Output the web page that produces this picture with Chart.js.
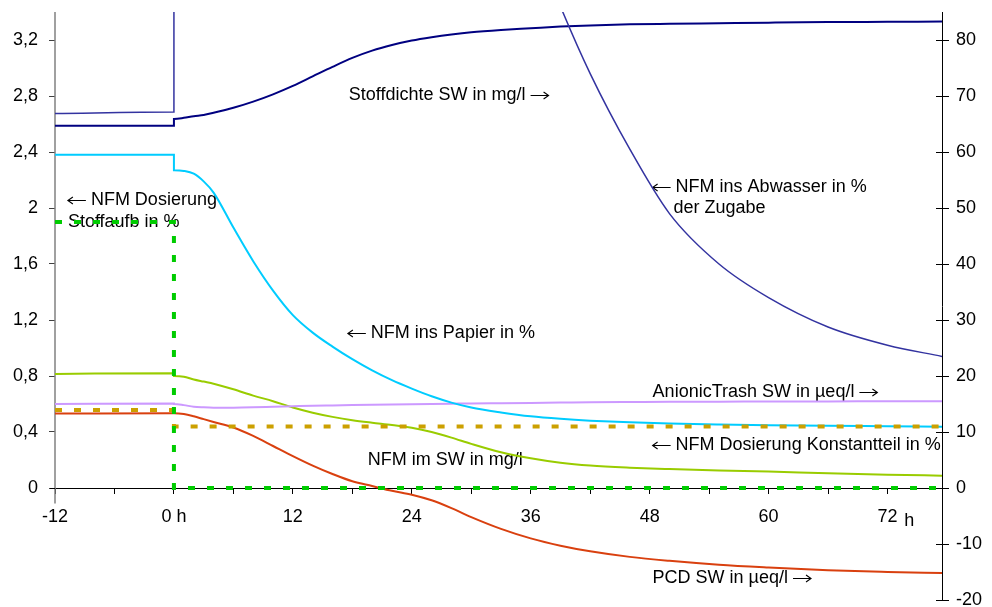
<!DOCTYPE html>
<html lang="de">
<head>
<meta charset="utf-8">
<title>NFM</title>
<script src="https://cdn.jsdelivr.net/npm/chart.js@4.4.1/dist/chart.umd.min.js"></script>
<style>
  html, body { margin: 0; padding: 0; background: #fff; }
  #contenedor { position: relative; width: 992px; height: 607px; }
</style>
</head>
<body>
<div id="contenedor"><canvas id="grafica"></canvas></div>
<script>
// Horas (eje x); el 0 va dos veces para el salto en t = 0
const horas = [-12, 0, 0, 1, 2, 3, 4, 6, 8, 10, 12, 14, 16, 18, 20, 22, 24, 26, 28, 30, 33, 36, 39, 42, 46, 50, 55, 60, 66, 72, 77.5];

// Series del eje izquierdo
const abwasser = [2.675, 2.685, 28, 26.1, 24.4, 22.8, 21.3, 18.7, 16.5, 14.6, 13, 11.6, 10.4, 9.3, 8.4, 7.6, 6.9, 6.25, 5.7, 5.2, 4.55, 3.98, 3.44, 2.96, 2.42, 1.96, 1.6, 1.36, 1.15, 1.02, 0.94];
const papier = [2.38, 2.38, 2.27, 2.265, 2.245, 2.19, 2.11, 1.86, 1.62, 1.41, 1.235, 1.11, 1.01, 0.92, 0.84, 0.77, 0.71, 0.655, 0.61, 0.575, 0.54, 0.512, 0.494, 0.481, 0.469, 0.46, 0.453, 0.448, 0.444, 0.441, 0.438];
const nfmSW = [0.815, 0.82, 0.80, 0.795, 0.775, 0.76, 0.745, 0.705, 0.66, 0.62, 0.575, 0.538, 0.508, 0.484, 0.466, 0.45, 0.43, 0.40, 0.36, 0.315, 0.255, 0.212, 0.18, 0.16, 0.145, 0.135, 0.125, 0.117, 0.105, 0.095, 0.088];

// Series del eje derecho
const stoffdichte = [64.7, 64.7, 65.9, 66.1, 66.4, 66.6, 67.0, 67.9, 69.0, 70.3, 71.8, 73.5, 75.2, 76.8, 78.1, 79.1, 79.9, 80.5, 81.0, 81.4, 81.8, 82.1, 82.4, 82.6, 82.8, 82.9, 83.0, 83.1, 83.2, 83.25, 83.3];
const anionic = [15.0, 15.1, 15.0, 14.8, 14.5, 14.4, 14.35, 14.35, 14.4, 14.5, 14.6, 14.7, 14.75, 14.8, 14.85, 14.9, 14.95, 15.0, 15.05, 15.1, 15.15, 15.2, 15.25, 15.3, 15.35, 15.4, 15.4, 15.45, 15.45, 15.5, 15.5];
const pcd = [13.3, 13.35, 13.35, 13.2, 12.8, 12.3, 11.8, 10.8, 9.3, 7.5, 5.7, 4.0, 2.5, 1.2, 0.35, -0.5, -1.2, -2.2, -3.6, -5.2, -7.3, -9.0, -10.3, -11.3, -12.3, -13.0, -13.7, -14.2, -14.7, -15.0, -15.2];

// Dosierung (escalones)
const dosierH = [-12, 0, 0, 77.5];
const stoffaufb = [1.9, 1.9, 0, 0];
const konstantteil = [0.557, 0.557, 0.44, 0.44];

// Marcas de los ejes
const ticksX = [-12, -6, 0, 6, 12, 18, 24, 30, 36, 42, 48, 54, 60, 66, 72];
const ticksLinks = [0, 0.4, 0.8, 1.2, 1.6, 2, 2.4, 2.8, 3.2];
const ticksRechts = [-20, -10, 0, 10, 20, 30, 40, 50, 60, 70, 80];

// Textos dentro del gráfico (h = horas, v = valor del eje izquierdo)
const anotaciones = [
    { texto: 'Stoffdichte SW in mg/l \u2192', h: 17.65, v: 2.807 },
    { texto: '\u2190 NFM ins Abwasser in %', h: 48.3, v: 2.15 },
    { texto: 'der Zugabe', h: 50.4, v: 2.0 },
    { texto: '\u2190 NFM Dosierung', h: -10.7, v: 2.057 },
    { texto: 'Stoffaufb in %', h: -10.7, v: 1.9 },
    { texto: '\u2190 NFM ins Papier in %', h: 17.55, v: 1.107 },
    { texto: 'AnionicTrash SW in \u00b5eq/l \u2192', h: 48.3, v: 0.686 },
    { texto: '\u2190 NFM Dosierung Konstantteil in %', h: 48.3, v: 0.307 },
    { texto: 'NFM im SW in mg/l', h: 19.56, v: 0.2 },
    { texto: 'PCD SW in \u00b5eq/l \u2192', h: 48.3, v: -0.643 },
    { texto: 'h', h: 73.7, v: -0.236 },
];

const FUENTE = '"Liberation Sans", Arial, sans-serif';
Chart.defaults.font.family = FUENTE;
Chart.defaults.font.size = 18;
Chart.defaults.color = '#000';

const puntos = (xs, ys) => xs.map((h, i) => ({ x: h, y: ys[i] }));

const linea = (datos, color, ancho, eje) => ({
    data: datos,
    borderColor: color,
    borderWidth: ancho,
    yAxisID: eje,
    pointRadius: 0,
    cubicInterpolationMode: 'monotone',
    fill: false,
});

const punteada = (datos, color) => ({
    data: datos,
    borderColor: color,
    borderWidth: 4,
    borderDash: [7, 12],
    borderCapStyle: 'butt',
    yAxisID: 'y',
    pointRadius: 0,
    tension: 0,
    fill: false,
});

// Flecha fina dibujada a mano (como en el original)
function flecha(ctx, x, y, izquierda) {
    const largo = 18, punta = 5;
    ctx.save();
    ctx.strokeStyle = '#000';
    ctx.lineWidth = 1.1;
    ctx.beginPath();
    ctx.moveTo(x, y);
    ctx.lineTo(x + largo, y);
    if (izquierda) {
        ctx.moveTo(x + punta, y - 3.5);
        ctx.lineTo(x, y);
        ctx.lineTo(x + punta, y + 3.5);
    } else {
        ctx.moveTo(x + largo - punta, y - 3.5);
        ctx.lineTo(x + largo, y);
        ctx.lineTo(x + largo - punta, y + 3.5);
    }
    ctx.stroke();
    ctx.restore();
    return largo;
}

// Escribe un texto; las flechas se dibujan con líneas
function escribir(ctx, texto, px, py) {
    let x = px;
    ctx.font = '18px ' + FUENTE;
    texto.split(/([\u2190\u2192])/).forEach(parte => {
        if (!parte) return;
        if (parte === '\u2190' || parte === '\u2192') {
            x += flecha(ctx, x, Math.round(py) + 0.5, parte === '\u2190');
        } else {
            ctx.fillText(parte, x, py);
            x += ctx.measureText(parte).width;
        }
    });
}

// Textos y detalles de los ejes
const extras = {
    id: 'extras',
    beforeDatasetsDraw(chart) {
        const { ctx, scales: { x, y, y2 } } = chart;
        ctx.save();
        // eje izquierdo gris, termina un poco debajo del 0
        ctx.strokeStyle = '#808080';
        ctx.lineWidth = 1.5;
        ctx.beginPath();
        ctx.moveTo(y.right, y.getPixelForValue(3.4));
        ctx.lineTo(y.right, y.getPixelForValue(-0.11));
        ctx.stroke();
        // el eje x empieza un poco antes del eje izquierdo
        ctx.strokeStyle = '#000';
        ctx.lineWidth = 1;
        const y0 = Math.round(y.getPixelForValue(0)) + 0.5;
        ctx.beginPath();
        ctx.moveTo(y.right - 5, y0);
        ctx.lineTo(y.right, y0);
        ctx.stroke();
        // marcas del eje derecho hacia dentro
        ticksRechts.forEach(v => {
            const py = Math.round(y2.getPixelForValue(v)) + 0.5;
            ctx.beginPath();
            ctx.moveTo(y2.left - 6, py);
            ctx.lineTo(y2.left, py);
            ctx.stroke();
        });
        ctx.fillStyle = '#000';
        ctx.textBaseline = 'middle';
        ctx.textAlign = 'left';
        anotaciones.forEach(a => escribir(ctx, a.texto, x.getPixelForValue(a.h), y.getPixelForValue(a.v)));
        ctx.restore();
    }
};

const $grafica = document.querySelector('#grafica');
new Chart($grafica, {
    type: 'line',
    data: {
        datasets: [
            punteada(puntos(dosierH, stoffaufb), '#00CC00'),
            punteada(puntos(dosierH, konstantteil), '#CCA000'),
            linea(puntos(horas, abwasser), '#3333A0', 1.5, 'y'),
            linea(puntos(horas, stoffdichte), '#000080', 2, 'y2'),
            linea(puntos(horas, papier), '#00CCFF', 2, 'y'),
            linea(puntos(horas, anionic), '#CC99FF', 2, 'y2'),
            linea(puntos(horas, nfmSW), '#99CC00', 2, 'y'),
            linea(puntos(horas, pcd), '#D9400F', 2, 'y2'),
        ]
    },
    options: {
        responsive: true,
        maintainAspectRatio: false,
        animation: false,
        layout: { padding: { top: 12, bottom: 7, left: 0, right: 0 } },
        plugins: { legend: { display: false }, tooltip: { enabled: false } },
        scales: {
            x: {
                type: 'linear',
                position: { y: 0 },
                min: -12,
                max: 77.5,
                afterBuildTicks: s => { s.ticks = ticksX.map(v => ({ value: v })); },
                afterFit: s => { s.paddingLeft = 0; s.paddingRight = 0; },
                grid: { drawOnChartArea: false, tickLength: 5, color: '#000' },
                border: { color: '#000', width: 1 },
                ticks: {
                    padding: 13,
                    maxRotation: 0,
                    autoSkip: false,
                    callback: v => v % 12 !== 0 ? '' : (v === 0 ? '0 h' : String(v)),
                },
            },
            y: {
                type: 'linear',
                position: 'left',
                min: -0.8,
                max: 3.4,
                afterBuildTicks: s => { s.ticks = ticksLinks.map(v => ({ value: v })); },
                afterFit: s => { s.width = 55; s.paddingTop = 0; s.paddingBottom = 0; },
                grid: { drawOnChartArea: false, tickLength: 6, color: '#404040' },
                border: { display: false },
                ticks: { padding: 11, callback: v => String(v).replace('.', ',') },
            },
            y2: {
                type: 'linear',
                position: 'right',
                min: -20,
                max: 85,
                afterBuildTicks: s => { s.ticks = ticksRechts.map(v => ({ value: v })); },
                afterFit: s => { s.width = 50; s.paddingTop = 0; s.paddingBottom = 0; },
                grid: { drawOnChartArea: false, tickLength: 7, color: '#000' },
                border: { color: '#000', width: 1 },
                ticks: { padding: 7 },
            },
        },
    },
    plugins: [extras],
});
</script>
</body>
</html>
